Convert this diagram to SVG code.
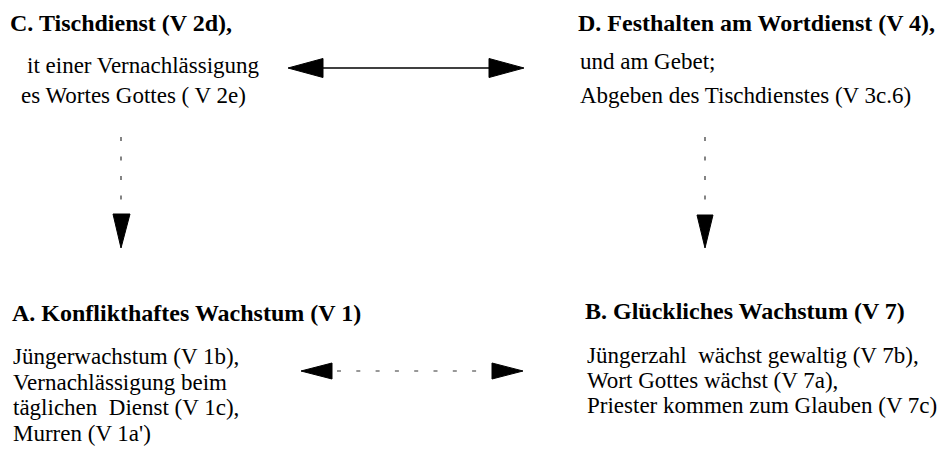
<svg xmlns="http://www.w3.org/2000/svg" width="952" height="459" viewBox="0 0 952 459">
<style>
text { font-family: "Liberation Serif", "Times New Roman", serif; fill: #000; white-space: pre; }
.t { font-size: 24px; font-weight: bold; }
.b { font-size: 23px; }
.solid { stroke: #000; stroke-width: 1.6; fill: none; }
.dash { stroke: #333; stroke-width: 1.2; fill: none; stroke-dasharray: 4 15.5; }
.head { fill: #000; stroke: #000; stroke-width: 1; stroke-linejoin: miter; }
</style>
<rect width="952" height="459" fill="#fff"/>
<g id="nodeC">
  <text class="t" x="10" y="31">C. Tischdienst (V 2d),</text>
  <text class="b" x="27" y="73">it einer Vernachlässigung</text>
  <text class="b" x="21" y="103">es Wortes Gottes ( V 2e)</text>
</g>
<g id="nodeD">
  <text class="t" x="578" y="31">D. Festhalten am Wortdienst (V 4),</text>
  <text class="b" x="580" y="69">und am Gebet;</text>
  <text class="b" x="580" y="103">Abgeben des Tischdienstes (V 3c.6)</text>
</g>
<g id="nodeA">
  <text class="t" x="12" y="321">A. Konflikthaftes Wachstum (V 1)</text>
  <text class="b" x="13" y="364">Jüngerwachstum (V 1b),</text>
  <text class="b" x="13" y="390">Vernachlässigung beim</text>
  <text class="b" x="13" y="415">täglichen  Dienst (V 1c),</text>
  <text class="b" x="13" y="441">Murren (V 1a')</text>
</g>
<g id="nodeB">
  <text class="t" x="585" y="319">B. Glückliches Wachstum (V 7)</text>
  <text class="b" x="587" y="363">Jüngerzahl  wächst gewaltig (V 7b),</text>
  <text class="b" x="587" y="388">Wort Gottes wächst (V 7a),</text>
  <text class="b" x="587" y="413">Priester kommen zum Glauben (V 7c)</text>
</g>
<g id="connectors">
  <line class="solid" x1="322" y1="68" x2="489" y2="68"/>
  <polygon class="head" points="288,68 323,58.5 323,77.5"/>
  <polygon class="head" points="524,68 489,58.5 489,77.5"/>
  <line class="dash" x1="121" y1="137" x2="121" y2="212"/>
  <polygon class="head" points="113,214 130,214 121,248"/>
  <line class="dash" x1="705" y1="137" x2="705" y2="212"/>
  <polygon class="head" points="697,215 713,215 705,248"/>
  <line class="dash" x1="337" y1="371" x2="490" y2="371" style="stroke-dasharray:4 15.3"/>
  <polygon class="head" points="301,371 332,363 332,379"/>
  <polygon class="head" points="523,371 492,363 492,379"/>
</g>
</svg>
